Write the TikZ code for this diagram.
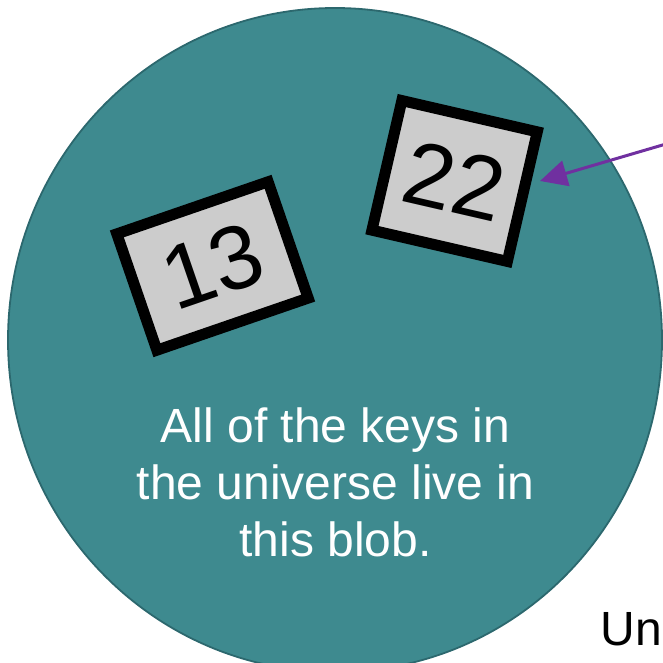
\documentclass[tikz,border=0pt]{standalone}
\usepackage{fontspec}
\setmainfont{Liberation Sans}
\usetikzlibrary{arrows.meta}
\definecolor{blobfill}{RGB}{62,138,143}
\definecolor{blobedge}{RGB}{44,104,110}
\definecolor{keygray}{RGB}{204,204,204}
\definecolor{arrowpurple}{RGB}{112,48,160}
\tikzset{
  blob/.style={fill=blobfill, draw=blobedge, line width=1.8pt},
  keybox/.style={draw=black, fill=keygray, line width=11pt, inner sep=0pt,
    font=\fontsize{90}{100}\selectfont, text=black},
  blobtext/.style={text=white, align=center, inner sep=0pt,
    font=\fontsize{48}{56.7}\selectfont},
  pointer/.style={draw=arrowpurple, line width=3pt,
    -{Triangle[length=27pt,width=26pt]}},
  cornertext/.style={text=black, inner sep=0pt, anchor=base west,
    font=\fontsize{48}{56}\selectfont}
}
\begin{document}
\begin{tikzpicture}[x=1pt,y=-1pt]
\useasboundingbox (0,0) rectangle (663,663);
\draw[blob] (335,340) ellipse [x radius=327pt, y radius=332pt];
\node[keybox, rotate=19, minimum width=160pt, minimum height=123pt] (k13) at (212.5,266) {13};
\node[keybox, rotate=-13, minimum width=139pt, minimum height=133pt] (k22) at (454.6,181) {22};
\node[blobtext] (label) at (335.5,482.5) {All of the keys in\\the universe live in\\this blob.};
\node[cornertext] (uni) at (600.5,645) {Un};
\coordinate (src) at (666,144);
\coordinate (tip) at (540,181);
\draw[pointer] (src) -- (tip);
\end{tikzpicture}
\end{document}
